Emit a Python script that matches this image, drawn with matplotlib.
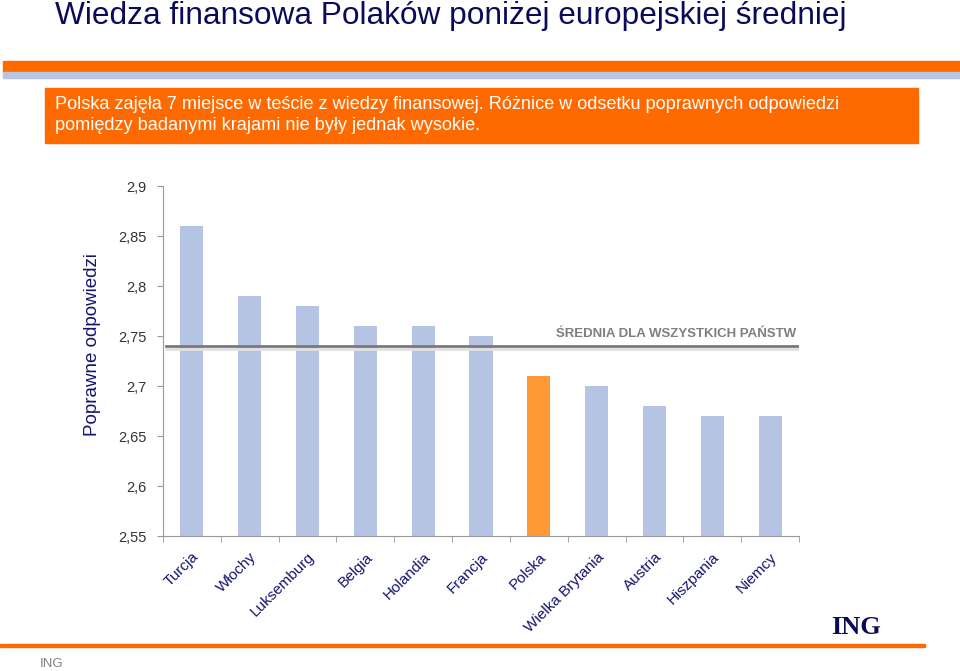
import matplotlib.pyplot as plt
from matplotlib.ticker import FuncFormatter

countries = ["Turcja", "Włochy", "Luksemburg", "Belgia", "Holandia", "Francja",
             "Polska", "Wielka Brytania", "Austria", "Hiszpania", "Niemcy"]
scores = [2.86, 2.79, 2.78, 2.76, 2.76, 2.75, 2.71, 2.70, 2.68, 2.67, 2.67]
average = 2.74
highlight = "Polska"
y_ticks = [2.55, 2.6, 2.65, 2.7, 2.75, 2.8, 2.85, 2.9]

navy = "#14146e"
blue = "#b4c4e2"
orange = "#ff6a00"

plt.rcParams["font.family"] = ["Liberation Sans", "DejaVu Sans"]

fig = plt.figure(figsize=(9.6, 6.71), dpi=100)

# header
fig.text(55 / 960, 1 - 1 / 671, "Wiedza finansowa Polaków poniżej europejskiej średniej",
         fontsize=22.8, color="#0a0a5a", va="top", ha="left")
fig.patches.append(plt.Rectangle((3 / 960, 1 - 72 / 671), 957 / 960, 11 / 671,
                                 transform=fig.transFigure, color=orange, zorder=0))
fig.patches.append(plt.Rectangle((3 / 960, 1 - 78 / 671), 957 / 960, 6 / 671,
                                 transform=fig.transFigure, color="#b8c6e2", zorder=0))
fig.patches.append(plt.Rectangle((45 / 960, 1 - 143 / 671), 873 / 960, 55 / 671,
                                 transform=fig.transFigure, color=orange, zorder=0))
fig.text(55 / 960, 1 - 115 / 671,
         "Polska zajęła 7 miejsce w teście z wiedzy finansowej. Różnice w odsetku poprawnych odpowiedzi\n"
         "pomiędzy badanymi krajami nie były jednak wysokie.",
         fontsize=13.1, color="white", va="center", ha="left", linespacing=1.3)

# footer
fig.patches.append(plt.Rectangle((0, 1 - 647 / 671), 925 / 960, 3 / 671,
                                 transform=fig.transFigure, color=orange, zorder=0))
fig.text(40 / 960, 1 - 664 / 671, "ING", fontsize=9.5, color="#808080", va="center")
fig.text(831 / 960, 1 - 628 / 671, "ING", fontsize=19, color="#0a0a5a", va="center",
         fontweight="bold", family=["Liberation Serif", "DejaVu Serif"])

ax = fig.add_axes([163 / 960, 1 - 536 / 671, 636 / 960, 350 / 671])
x = range(len(countries))
colors = ["#ff9933" if c == highlight else blue for c in countries]
ax.bar(x, scores, width=0.4, color=colors, zorder=2)

ax.axhline(average - 0.003, color="#e0e0e0", lw=2, zorder=3, xmin=0.005, xmax=1.0)
ax.axhline(average, color="#7a7a7a", lw=2, zorder=4, xmin=0.005, xmax=1.0)
ax.text(len(countries) - 0.55, average + 0.006, "ŚREDNIA DLA WSZYSTKICH PAŃSTW",
        color="#7f7f7f", fontsize=9.5, fontweight="bold", ha="right", va="bottom")

ax.set_xlim(-0.5, len(countries) - 0.5)
ax.set_ylim(2.55, 2.9)
ax.set_yticks(y_ticks)
ax.yaxis.set_major_formatter(FuncFormatter(lambda v, p: ("%g" % round(v, 2)).replace(".", ",")))
ax.set_xticks([i - 0.5 for i in range(len(countries) + 1)], minor=True)
ax.set_xticks(list(x))
ax.set_xticklabels(countries, rotation=45, ha="right", va="top", rotation_mode="anchor",
                   color=navy, fontsize=11)
ax.tick_params(axis="x", which="major", length=0, pad=10)
ax.tick_params(axis="x", which="minor", length=4, color="#999999")
ax.tick_params(axis="y", length=4, color="#999999", labelsize=10.5, labelcolor="#333333", pad=8)
for s in ["top", "right"]:
    ax.spines[s].set_visible(False)
for s in ["left", "bottom"]:
    ax.spines[s].set_color("#999999")
ax.set_ylabel("Poprawne odpowiedzi", fontsize=13.5, color=navy)
ax.yaxis.set_label_coords(-0.098, 0.546)

fig.savefig("out.png", dpi=100)
